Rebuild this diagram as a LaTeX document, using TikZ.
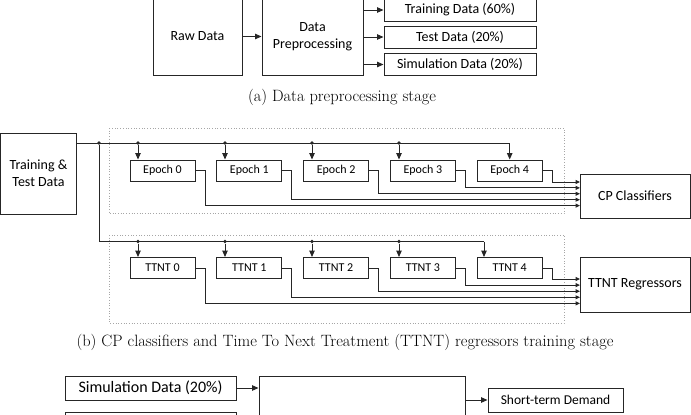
\documentclass[tikz,border=0pt]{standalone}
\usepackage{fontspec}
\setsansfont{Carlito}
\usetikzlibrary{arrows.meta}
\begin{document}
\begin{tikzpicture}[x=1pt,y=-1pt,
  box/.style={draw=black!85, line width=1pt, font=\sffamily\fontsize{14}{17}\selectfont, align=center, inner sep=0pt, fill=white},
  sbox/.style={box, font=\sffamily\fontsize{12}{14}\selectfont, minimum width=65pt, minimum height=21pt},
  ln/.style={draw=black!85, line width=1pt},
  arr/.style={ln, -{Triangle[length=6.5pt,width=5.5pt]}},
  sarr/.style={ln, -{Triangle[length=4.5pt,width=4pt]}},
  grp/.style={draw=black!35, dotted, line width=0.7pt},
  dot/.style={circle, fill=black!85, inner sep=0pt, minimum size=3.8pt},
  captext/.style={font=\fontsize{16.4}{19}\selectfont}
]
\useasboundingbox (0,0) rectangle (691,415);
\fill[white] (0,0) rectangle (691,415);
\begin{scope}
\clip (0,0) rectangle (691,415);
% ---------- (a) ----------
\node[box, minimum width=89pt, minimum height=77pt] (raw) at (197.5,36.5) {Raw Data};
\node[box, minimum width=101pt, minimum height=77pt] (prep) at (312.5,36.5) {Data\\Preprocessing};
\node[box, minimum width=152pt, minimum height=22pt] (train) at (460,10) {Training Data (60\%)};
\node[box, minimum width=152pt, minimum height=22pt] (test) at (460,37) {Test Data (20\%)};
\node[box, minimum width=152pt, minimum height=22pt] (sim) at (460,64.5) {Simulation Data (20\%)};
\draw[arr] (raw) -- (prep);
\draw[arr] (prep.east |- train.west) -- (train.west);
\draw[arr] (prep.east |- test.west) -- (test.west);
\draw[arr] (prep.east |- sim.west) -- (sim.west);
\node[captext] (capa) at (342,97) {(a) Data preprocessing stage};
% ---------- (b) ----------
\draw[grp] (109,128) rectangle (564,213.5);
\draw[grp] (109,235) rectangle (564,323);
\node[box, minimum width=76pt, minimum height=81pt] (td) at (38.5,173.5) {Training \&\\Test Data};
\node[box, minimum width=110pt, minimum height=44pt] (cp) at (635,196) {CP Classifiers};
\node[box, minimum width=110pt, minimum height=55pt] (tr) at (635,284.5) {TTNT Regressors};
\coordinate (bus) at (77,143);
\node[dot] (j0) at (99,143) {};
\coordinate (ttc) at (99,241.5);
\coordinate (ec4) at (509.7,143);
\coordinate (tc4) at (484,241.5);
\foreach \k in {0,...,4}{
  \node[sbox] (e\k) at ({162.5+86.8*\k},170.5) {Epoch \k};
  \node[sbox] (t\k) at ({162.5+86.8*\k},268) {TTNT \k};
  \coordinate (ci\k) at (580,{182+5.9*(4-\k)});
  \coordinate (ti\k) at (580,{279+6.1*(4-\k)});
}
\foreach \k in {0,...,3}{
  \node[dot] (d\k) at ({138+87*\k},143) {};
  \node[dot] (u\k) at ({138+87*\k},241.5) {};
}
\draw[ln] (bus) -- (ec4);
\draw[arr] (ec4) -- (e4.north -| ec4);
\draw[ln] (j0) -- (ttc) -- (tc4);
\draw[arr] (tc4) -- (t4.north -| tc4);
\foreach \k in {0,...,3}{
  \draw[arr] (d\k) -- (e\k.north -| d\k);
  \draw[arr] (u\k) -- (t\k.north -| u\k);
}
\foreach \k in {0,...,4}{
  \draw[sarr] (e\k.east) -- ++(9.5,0) |- (ci\k);
  \draw[sarr] (t\k.east) -- ++(9.5,0) |- (ti\k);
}
\node[captext] (capb) at (345,342) {(b) CP classifiers and Time To Next Treatment (TTNT) regressors training stage};
% ---------- (c) ----------
\node[box, font=\sffamily\fontsize{16}{18}\selectfont, minimum width=171pt, minimum height=24pt] (sim2) at (150.5,388) {Simulation Data (20\%)};
\node[box, minimum width=171pt, minimum height=24pt] (hid) at (150.5,424) {};
\node[box, minimum width=206pt, minimum height=80pt] (big) at (362,416) {};
\node[box, font=\sffamily\fontsize{13.5}{16}\selectfont, minimum width=135pt, minimum height=24pt] (st) at (555.5,400) {Short-term Demand};
\draw[arr] (sim2.east) -- (sim2.east -| big.west);
\draw[arr] (big.east |- st.west) -- (st.west);
\end{scope}
\end{tikzpicture}
\end{document}
